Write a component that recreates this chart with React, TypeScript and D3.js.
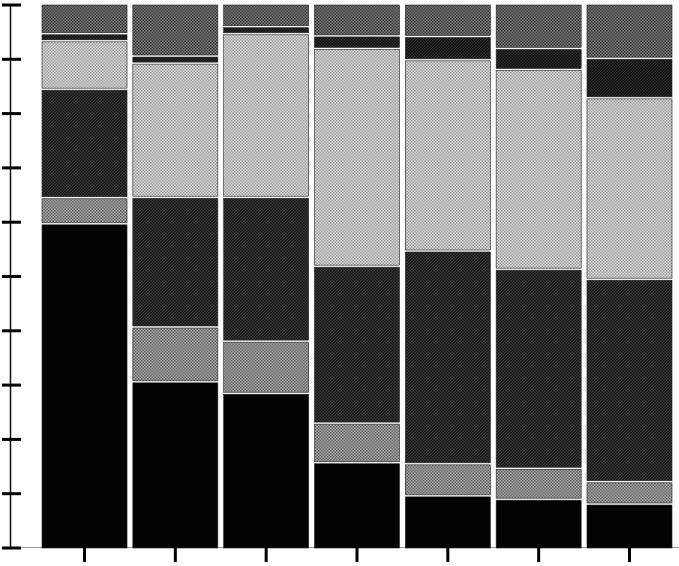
import React from "react";
import * as d3 from "d3";

const categories = ["1", "2", "3", "4", "5", "6", "7"];
const seriesKeys = ["black", "mid", "dark", "light", "band", "top"];
const blackVals = [59.7, 30.6, 28.5, 15.7, 9.6, 9.0, 8.1];
const midVals = [4.8, 10.1, 9.6, 7.3, 5.9, 5.7, 4.1];
const darkVals = [20.0, 23.9, 26.5, 28.9, 39.2, 36.7, 37.3];
const lightVals = [8.9, 24.7, 30.1, 40.1, 35.2, 36.8, 33.4];
const bandVals = [1.3, 1.3, 1.3, 2.3, 4.3, 3.9, 7.3];
const topVals = [5.3, 9.4, 4.0, 5.7, 5.8, 8.0, 9.8];
const yTicks = [0, 10, 20, 30, 40, 50, 60, 70, 80, 90, 100];

const W = 679;
const H = 566;

const fills: Record<string, { bg: string; dot: string }> = {
  black: { bg: "#030303", dot: "#030303" },
  mid: { bg: "#a4a4a4", dot: "#666" },
  dark: { bg: "#383838", dot: "#141414" },
  light: { bg: "#d6d6d6", dot: "#a0a0a0" },
  band: { bg: "#2e2e2e", dot: "#0c0c0c" },
  top: { bg: "#777", dot: "#3a3a3a" },
};

export default function App() {
  const rows = categories.map((c, i) => ({
    cat: c,
    black: blackVals[i],
    mid: midVals[i],
    dark: darkVals[i],
    light: lightVals[i],
    band: bandVals[i],
    top: topVals[i],
  }));
  const stacked = d3.stack<any>().keys(seriesKeys).offset(d3.stackOffsetExpand)(rows);

  const x = d3.scaleBand().domain(categories).range([42, 672]).paddingInner(0.064).paddingOuter(0.0);
  const y = d3.scaleLinear().domain([0, 1]).range([548, 5]);
  const yAxisScale = d3.scaleLinear().domain([0, 100]).range([548, 5]);

  return (
    <svg width={W} height={H} style={{ position: "absolute", left: 0, top: 0, background: "#fff" }}>
      <defs>
        {seriesKeys.map((k) => (
          <pattern key={k} id={"p-" + k} width={3} height={3} patternUnits="userSpaceOnUse">
            <rect width={3} height={3} fill={fills[k].bg} />
            <rect x={0} y={0} width={1.5} height={1.5} fill={fills[k].dot} />
            <rect x={1.5} y={1.5} width={1.5} height={1.5} fill={fills[k].dot} />
          </pattern>
        ))}
      </defs>
      <line x1={10.5} x2={W} y1={547.5} y2={547.5} stroke="#999" strokeWidth={1} />
      {stacked.map((s) => (
        <g key={s.key}>
          {s.map((d, i) => {
            const x0 = x(categories[i])!;
            const yt = y(d[1]);
            const yb = y(d[0]);
            const gapTop = s.key === "top" ? 0 : 1;
            const gapBot = s.key === "black" ? 0 : 1;
            return (
              <rect
                key={i}
                x={x0}
                y={yt + gapTop}
                width={x.bandwidth()}
                height={Math.max(0, yb - yt - gapTop - gapBot)}
                fill={`url(#p-${s.key})`}
                stroke="#222"
                strokeWidth={0.6}
              />
            );
          })}
        </g>
      ))}
      <line x1={10.5} x2={10.5} y1={5} y2={548} stroke="#111" strokeWidth={1.5} />
      {yTicks.map((t) => (
        <line key={t} x1={2} x2={21} y1={yAxisScale(t)} y2={yAxisScale(t)} stroke="#000" strokeWidth={3} />
      ))}
      {categories.map((c) => {
        const cx = x(c)! + x.bandwidth() / 2;
        return <line key={c} x1={cx} x2={cx} y1={547} y2={562} stroke="#000" strokeWidth={3} />;
      })}
    </svg>
  );
}
